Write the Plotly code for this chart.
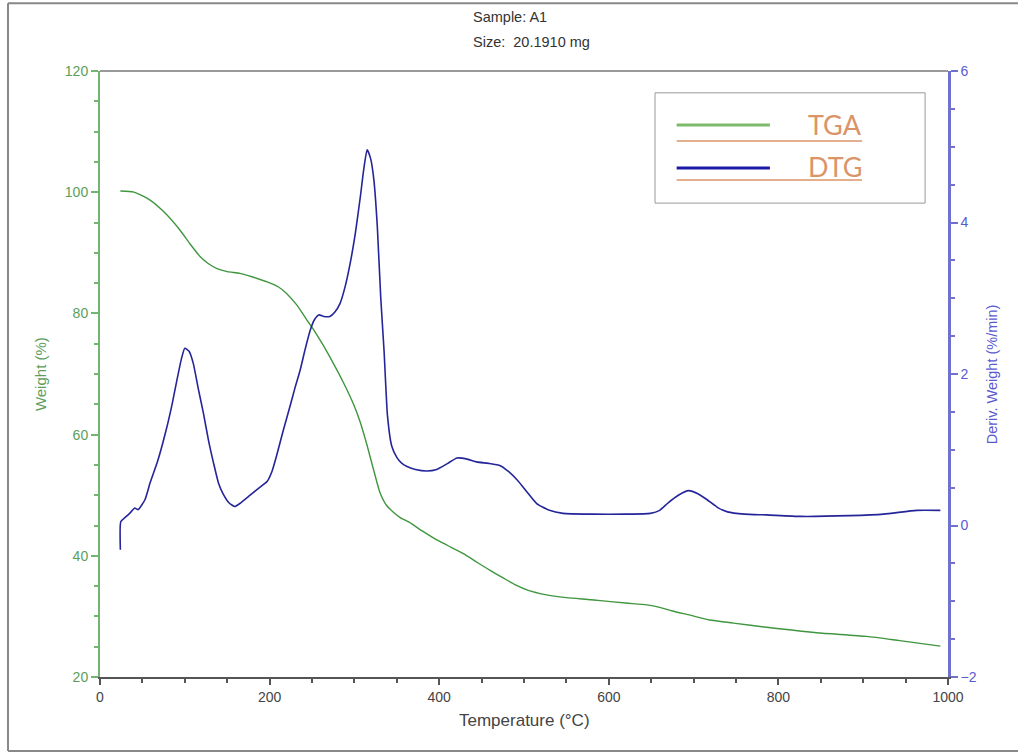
import plotly.graph_objects as go

# TGA: weight (%) versus temperature (°C)
tga_temp = [24, 40, 59, 75, 94, 106, 118, 128, 138, 150, 165, 180, 197, 210, 220,
            232, 244, 252, 263, 275, 287, 299, 307, 315, 323, 330, 338, 346, 354,
            365, 380, 395, 410, 428, 445, 460, 476, 490, 505, 525, 550, 575, 590,
            620, 645, 660, 675, 696, 719, 747, 786, 845, 904, 943, 991]
tga_weight = [100.2, 100.0, 98.7, 96.8, 93.8, 91.5, 89.4, 88.2, 87.4, 86.9, 86.6,
              86.0, 85.2, 84.4, 83.3, 81.4, 78.9, 77.3, 74.8, 71.8, 68.6, 65.0,
              62.0, 58.2, 54.0, 50.5, 48.3, 47.2, 46.3, 45.5, 44.1, 42.8, 41.7,
              40.4, 38.9, 37.6, 36.3, 35.2, 34.3, 33.6, 33.1, 32.8, 32.6, 32.2,
              31.9, 31.5, 30.9, 30.2, 29.4, 28.9, 28.2, 27.3, 26.7, 26.0, 25.1]

# DTG: derivative weight (%/min) versus temperature (°C)
dtg_temp = [24, 24.5, 30, 35, 41, 45, 53, 59, 68, 78, 85, 90, 96, 100, 105, 110,
            116, 122, 128, 134, 140, 145, 152, 159, 166, 177, 188, 197, 203, 208,
            216, 224, 230, 236, 242, 248, 253, 258, 264, 271, 277, 283, 289, 295,
            301, 307, 311, 315, 319, 323, 327, 331, 335, 339, 344, 350, 356, 362,
            372, 385, 397, 410, 421, 432, 444, 458, 472, 482, 492, 503, 515, 530,
            546, 580, 620, 649, 660, 670, 682, 694, 705, 716, 728, 740, 760, 786,
            826, 884, 924, 963, 991]
dtg_rate = [-0.32, 0.05, 0.11, 0.16, 0.23, 0.21, 0.34, 0.56, 0.85, 1.26, 1.6, 1.88,
            2.2, 2.34, 2.3, 2.14, 1.8, 1.48, 1.12, 0.82, 0.55, 0.42, 0.3, 0.25, 0.3,
            0.40, 0.5, 0.58, 0.72, 0.91, 1.25, 1.57, 1.82, 2.05, 2.33, 2.58, 2.72,
            2.78, 2.76, 2.76, 2.82, 2.93, 3.15, 3.46, 3.85, 4.34, 4.7, 4.96, 4.85,
            4.56, 3.95, 3.02, 2.3, 1.45, 1.05, 0.9, 0.82, 0.78, 0.74, 0.72, 0.74,
            0.82, 0.89, 0.88, 0.84, 0.82, 0.79, 0.71, 0.60, 0.45, 0.29, 0.2, 0.16,
            0.15, 0.15, 0.16, 0.2, 0.3, 0.4, 0.46, 0.42, 0.34, 0.24, 0.18, 0.15,
            0.14, 0.12, 0.13, 0.15, 0.2, 0.2]

header_lines = ["Sample: A1", "Size:  20.1910 mg"]
legend_names = ["TGA", "DTG"]

assert len(tga_temp) == len(tga_weight)
assert len(dtg_temp) == len(dtg_rate)

GREEN_LINE = "#3f963f"
GREEN_AXIS = "#72b572"
GREEN_TEXT = "#5c9e5c"
BLUE_LINE = "#25259a"
BLUE_AXIS = "#7070d0"
BLUE_TEXT = "#5a5ad0"
LEGEND_TEXT = "#da9468"
FONT = "Liberation Sans, Arial, sans-serif"

fig = go.Figure()
fig.add_trace(go.Scatter(x=tga_temp, y=tga_weight, mode="lines", name=legend_names[0],
                         line=dict(color=GREEN_LINE, width=1.4, shape="spline", smoothing=0.6),
                         showlegend=False))
fig.add_trace(go.Scatter(x=dtg_temp, y=dtg_rate, mode="lines", name=legend_names[1],
                         yaxis="y2",
                         line=dict(color=BLUE_LINE, width=1.6, shape="spline", smoothing=0.5),
                         showlegend=False))

fig.update_layout(
    width=1018, height=753,
    margin=dict(l=100, r=70, t=71, b=76),
    paper_bgcolor="white", plot_bgcolor="white",
    font=dict(family=FONT, size=14, color="#444"),
    xaxis=dict(range=[0, 1000], dtick=200, showgrid=False, zeroline=False,
               showline=True, linecolor="#555", linewidth=1.5,
               ticks="outside", ticklen=6, tickwidth=1.5, tickcolor="#555",
               minor=dict(dtick=50, ticks="outside", ticklen=4, tickwidth=1.5,
                          tickcolor="#555"),
               tickfont=dict(size=14, color="#444")),
    yaxis=dict(range=[20, 120], dtick=20, showgrid=False, zeroline=False,
               showline=True, linecolor=GREEN_AXIS, linewidth=2,
               ticks="outside", ticklen=7, tickwidth=1.5, tickcolor=GREEN_AXIS,
               minor=dict(dtick=5, ticks="outside", ticklen=4, tickwidth=1.5,
                          tickcolor=GREEN_AXIS),
               tickfont=dict(size=14, color=GREEN_TEXT)),
    yaxis2=dict(range=[-2, 6], dtick=2, overlaying="y", side="right",
                showgrid=False, zeroline=False,
                showline=True, linecolor=BLUE_AXIS, linewidth=2.5,
                ticks="outside", ticklen=7, tickwidth=1.5, tickcolor=BLUE_AXIS,
                minor=dict(dtick=0.5, ticks="outside", ticklen=4, tickwidth=1.5,
                           tickcolor=BLUE_AXIS),
                tickfont=dict(size=14, color=BLUE_TEXT)),
)

# axis titles
fig.add_annotation(text="Temperature (°C)", xref="paper", yref="paper", x=0.5, y=-0.071,
                   showarrow=False, font=dict(size=17, color="#444"), yanchor="middle")
fig.add_annotation(text="Weight (%)", xref="paper", yref="paper", x=-0.083, y=0.5,
                   textangle=-90, showarrow=False, font=dict(size=15, color=GREEN_TEXT))
fig.add_annotation(text="Deriv. Weight (%/min)", xref="paper", yref="paper", x=1.064, y=0.5,
                   textangle=-90, showarrow=False, font=dict(size=14.5, color=BLUE_TEXT))

# header text above the plot
for line, yp in zip(header_lines, [1.089, 1.048]):
    fig.add_annotation(text=line, xref="paper", yref="paper", x=0.437, y=yp,
                       xanchor="left", yanchor="middle", showarrow=False,
                       font=dict(size=14.5, color="#333"))

# top frame line of the plot area
fig.add_shape(type="line", xref="paper", yref="paper", x0=0, x1=1, y0=1, y1=1,
              line=dict(color="#777", width=1.5))

# outer frame around the figure
for x0, y0, x1, y1 in [(-0.1085, -0.122, -0.1085, 1.112),
                       (-0.1085, 1.112, 1.0825, 1.112),
                       (-0.1085, -0.122, 1.0825, -0.122)]:
    fig.add_shape(type="line", xref="paper", yref="paper", x0=x0, y0=y0, x1=x1, y1=y1,
                  line=dict(color="#888", width=2))

# legend box drawn by hand
fig.add_shape(type="rect", xref="paper", yref="paper", x0=0.6545, x1=0.973,
              y0=0.782, y1=0.964, line=dict(color="#999", width=1), fillcolor="white")
for name, color, ly, ty, uy in [(legend_names[0], "#7dbb6b", 0.911, 0.912, 0.8845),
                                (legend_names[1], "#1a1aa6", 0.840, 0.842, 0.820)]:
    fig.add_shape(type="line", xref="paper", yref="paper", x0=0.680, x1=0.790,
                  y0=ly, y1=ly, line=dict(color=color, width=3))
    fig.add_shape(type="line", xref="paper", yref="paper", x0=0.680, x1=0.8986,
                  y0=uy, y1=uy, line=dict(color=LEGEND_TEXT, width=1.5))
    fig.add_annotation(text=name, xref="paper", yref="paper", x=0.901, y=ty,
                       xanchor="right", yanchor="middle", showarrow=False,
                       font=dict(family="Lato, Open Sans, sans-serif", size=27,
                                 color=LEGEND_TEXT))

fig.write_html("out.html")
